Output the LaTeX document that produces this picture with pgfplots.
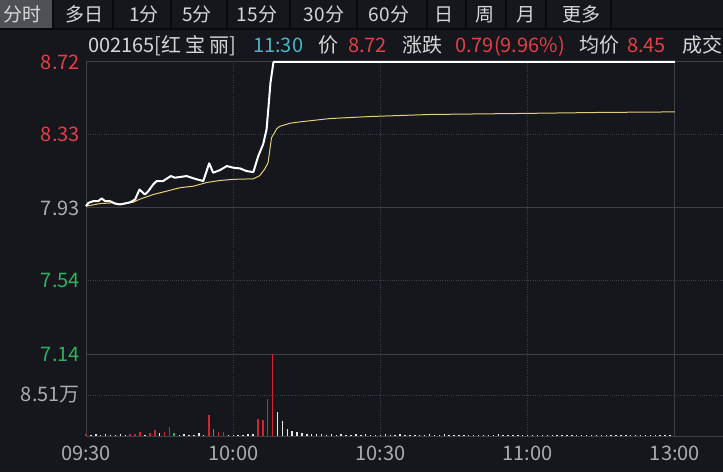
\documentclass[border=0pt]{standalone}
\usepackage{fontspec}
\setmainfont{Noto Sans CJK SC}
\usepackage{pgfplots}
\pgfplotsset{compat=1.18}
\definecolor{bgc}{RGB}{21,23,28}
\definecolor{tabsel}{RGB}{78,80,85}
\definecolor{sepc}{RGB}{8,9,11}
\definecolor{tabtxt}{RGB}{215,215,215}
\definecolor{hdrw}{RGB}{215,215,215}
\definecolor{cyanc}{RGB}{72,182,200}
\definecolor{upred}{RGB}{228,62,72}
\definecolor{dngreen}{RGB}{45,178,95}
\definecolor{grayt}{RGB}{170,172,178}
\definecolor{solidc}{RGB}{62,64,70}
\definecolor{dotc}{RGB}{58,61,67}
\definecolor{avgc}{RGB}{228,205,125}
\definecolor{volred}{RGB}{205,40,50}
\definecolor{volgreen}{RGB}{40,170,90}
\definecolor{volwhite}{RGB}{232,232,232}
\newcommand{\fs}{\fontsize{20}{24}\selectfont}
\newcommand{\ft}{\fontsize{19}{23}\selectfont}
\pgfplotsset{
  base/.style={
    scale only axis, width=637pt, xmin=0, xmax=129.8,
    axis line style={draw=none}, major tick length=0pt, tick style={draw=none},
    clip=false, grid=major,
    major grid style={draw=dotc, dash pattern=on 1pt off 1.2pt, line width=0.8pt},
    ticklabel style={font=\fs, inner sep=0pt},
    yticklabel style={anchor=east, xshift=-6pt},
    extra x tick style={grid=major, major grid style={draw=solidc, solid, line width=1pt}},
    extra y tick style={grid=major, major grid style={draw=solidc, solid, line width=1pt}},
  }
}
\begin{document}
\begin{tikzpicture}[x=1pt,y=1pt]
\fill[bgc] (0,0) rectangle (723,472);
\useasboundingbox (0,0) rectangle (723,472);
% tab bar
\fill[tabsel] (0,443) rectangle (53,472);
\draw[sepc, line width=1.4pt] (0,443) -- (723,443);
\foreach \x in {53,113,171,227,290,357,427,466,506,546,611}
  \draw[sepc, line width=1.4pt] (\x,443) -- (\x,472);
\foreach \x/\t in {22/分时,84/多日,144/1分,197/5分,257/15分,324/30分,389/60分,444/日,485/周,526/月,581/更多}
  \node[text=tabtxt, font=\ft, inner sep=0pt, anchor=center] at (\x,457.5) {\t};
% header
\begin{scope}[every node/.style={anchor=base west, inner sep=0pt, font=\fs}]
\node[text=hdrw] at (88,419) {002165[红\hspace{4pt}宝\hspace{4pt}丽]};
\node[text=cyanc] at (253,419) {11:30};
\node[text=hdrw] at (318,419) {价};
\node[text=upred] at (348,419) {8.72};
\node[text=hdrw] at (402,419) {涨跌};
\node[text=upred] at (455,419) {0.79(9.96\%)};
\node[text=hdrw] at (579,419) {均价};
\node[text=upred] at (627,419) {8.45};
\node[text=hdrw, anchor=base east] at (722.5,419) {成交};
\end{scope}
% price panel
\begin{axis}[base, at={(86pt,118pt)}, anchor=south west, height=292pt,
  ymin=7.14, ymax=8.72,
  xtick={30,60,90}, xticklabels={},
  extra x ticks={0,120}, extra x tick labels={},
  ytick={7.54,8.33},
  yticklabels={\textcolor{dngreen}{7.54},\textcolor{upred}{8.33}},
  extra y ticks={7.14,7.93,8.72},
  extra y tick labels={\textcolor{dngreen}{7.14},\textcolor{grayt}{7.93},\textcolor{upred}{8.72}},
]
\addplot[avgc, line width=1pt] coordinates {
(0,7.940) (2.9,7.954) (5.6,7.958) (6.9,7.952) (9.6,7.961) (11,7.978) (13.7,8.003)
(16.4,8.021) (19.2,8.040) (21.9,8.048) (24.6,8.068) (27.3,8.079) (30,8.085)
(34.1,8.088) (35.4,8.105) (36.4,8.140) (37.1,8.175) (37.8,8.310) (38.9,8.360)
(39.5,8.372) (41.6,8.389) (43.6,8.396) (49.7,8.414) (57.9,8.425) (70.1,8.436)
(89.9,8.442) (104.7,8.447) (120,8.450)};
\addplot[white, line width=2pt, line join=round] coordinates {
(0,7.940) (0.5,7.958) (1.5,7.967) (2.5,7.967) (3.2,7.982) (3.9,7.967) (4.9,7.967)
(5.9,7.954) (6.9,7.949) (7.9,7.954) (9.0,7.961) (10.0,7.976) (10.9,8.030)
(12.0,8.003) (12.7,8.021) (13.7,8.058) (14.4,8.076) (15.7,8.076) (17.3,8.103)
(18.1,8.094) (19.5,8.099) (20.5,8.103) (21.5,8.094) (22.6,8.085) (23.9,8.076)
(25.1,8.172) (25.9,8.121) (27.3,8.135) (28.7,8.157) (30.0,8.148) (31.4,8.144)
(32.7,8.130) (34.1,8.124) (35.1,8.211) (36.1,8.275) (36.8,8.356) (37.6,8.610)
(38.2,8.720) (120,8.720)};
\end{axis}
% volume panel
\begin{axis}[base, at={(86pt,36pt)}, anchor=south west, height=82pt,
  ymin=0, ymax=17.02,
  xtick={30,60,90}, xticklabels={10:00,10:30,11:00},
  extra x ticks={0,120}, extra x tick labels={09:30,13:00},
  xticklabel style={anchor=center, yshift=-17pt, text=grayt},
  ytick={8.51}, yticklabels={\textcolor{grayt}{8.51万}},
  extra y ticks={0}, extra y tick labels={},
]
\addplot[ycomb, volred, line width=1.7pt] coordinates {
(0,0.4) (9,0.5) (10,0.5) (11,0.9) (13,0.7) (14,1.3) (16,0.9) (17,1.8) (25,4.3)
(27,0.8) (28,0.8) (35,3.5) (36,3.4) (37,7.6) (38,17.0)};
\addplot[ycomb, volgreen, line width=1.7pt] coordinates {
(18,0.6) (26,1.4)};
\addplot[ycomb, volwhite, line width=1.4pt] coordinates {
(1,0.2) (2,0.4) (3,0.2) (4,0.4) (5,0.3) (6,0.2) (7,0.4) (8,0.2) (12,0.3) (15,0.7)
(19,0.3) (20,0.4) (21,0.3) (22,0.3) (23,0.6) (24,0.3) (29,0.2) (30,0.3) (31,0.3)
(32,0.3) (33,0.4) (34,0.5) (39,5.0) (40,3.1) (41,1.5) (42,1.0) (43,0.8) (44,0.7)
(45,0.5) (46,0.4) (47,0.5) (48,0.4) (49,0.3) (50,0.4) (51,0.3) (52,0.5) (53,0.3)
(54,0.3) (55,0.4) (56,0.3) (57,0.5) (58,0.3) (59,0.3) (60,0.3) (61,0.4) (62,0.3)
(63,0.2) (64,0.5) (65,0.3) (66,0.3) (67,0.3) (68,0.2) (69,0.3) (70,0.5) (71,0.2)
(72,0.3) (73,0.4) (74,0.3) (75,0.2) (76,0.3) (77,0.3) (78,0.2) (79,0.3) (80,0.3)
(81,0.2) (82,0.3) (83,0.3) (84,0.5) (85,0.3) (86,0.2) (87,0.3) (88,0.3) (89,0.2)
(90,0.3) (91,0.2) (92,0.3) (93,0.2) (94,0.3) (95,0.2) (96,0.2) (97,0.3) (98,0.2)
(99,0.2) (100,0.3) (101,0.2) (102,0.2) (103,0.3) (104,0.2) (105,0.2) (106,0.3)
(107,0.2) (108,0.2) (109,0.2) (110,0.3) (111,0.2) (112,0.2) (113,0.2) (114,0.3)
(115,0.2) (116,0.2) (117,0.2) (118,0.2) (119,0.3)};
\end{axis}
\end{tikzpicture}
\end{document}
